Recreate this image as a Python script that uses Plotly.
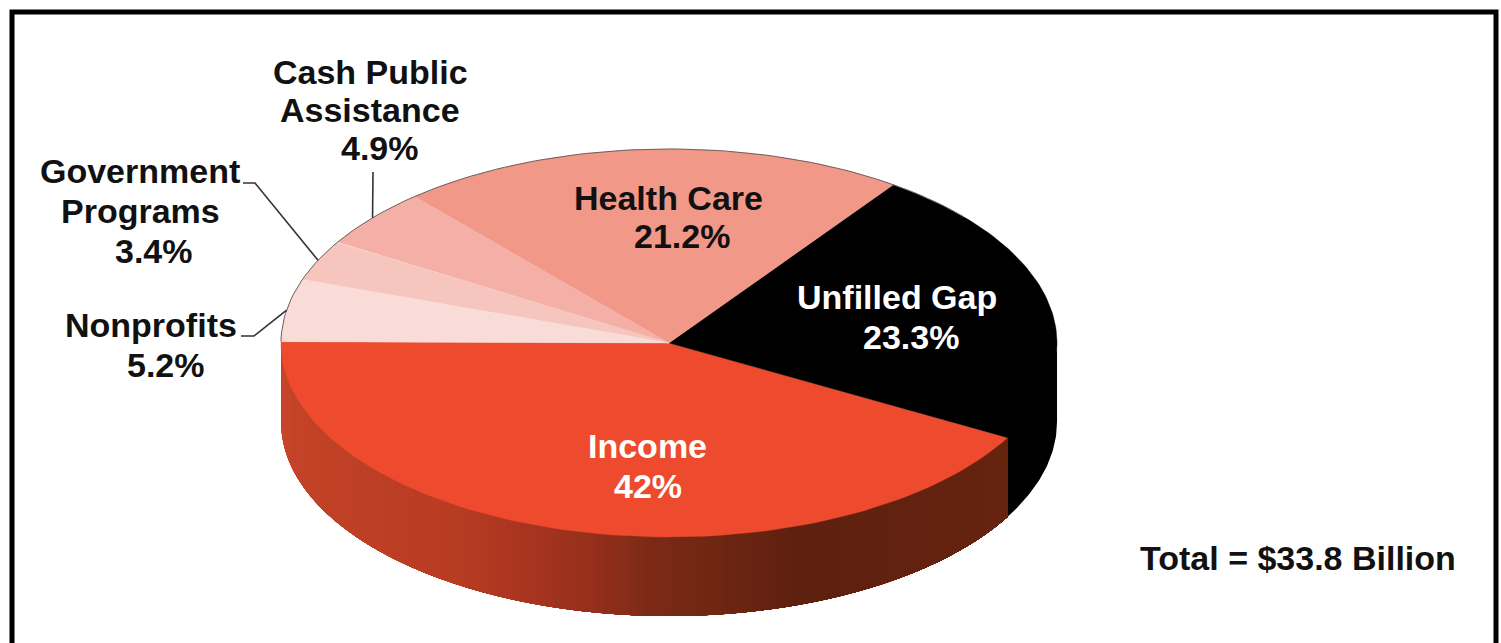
import numpy as np
import plotly.graph_objects as go

# Shares of the total, percent, running counter-clockwise from the left edge of the pie top
categories = ["Income", "Unfilled Gap", "Health Care", "Cash Public Assistance", "Government Programs", "Nonprofits"]
shares = [42.0, 23.3, 21.2, 4.9, 3.4, 5.2]
top_colors = ["#EE4B2E", "#000000", "#F29888", "#F4B0A6", "#F6C6BE", "#F9DCD8"]

total_label = "Total = $33.8 Billion"

# Pie geometry in page pixels
CX, CY = 669.0, 343.0
RX, RY = 388.0, 194.0
DEPTH = 79.0
START_DEG = 179.6

# Shading of the income rim, from its left end to its right end
rim_stops = [
    (0.00, "#9C3020"), (0.02, "#C8452A"), (0.38, "#B83C22"), (0.455, "#A83420"),
    (0.52, "#96301C"), (0.58, "#7C2A16"), (0.73, "#5E200F"), (1.00, "#66240F"),
]


def ellipse_point(deg):
    a = np.radians(deg)
    return CX + RX * np.cos(a), CY - RY * np.sin(a)


def shade(t, stops):
    ts = [s[0] for s in stops]
    rgb = np.array([[int(s[1][i:i + 2], 16) for i in (1, 3, 5)] for s in stops])
    vals = [int(round(np.interp(t, ts, rgb[:, k]))) for k in range(3)]
    return f"rgb({vals[0]},{vals[1]},{vals[2]})"


def polygon(fig, xs, ys, color, line_width=0.0):
    fig.add_trace(go.Scatter(
        x=xs, y=ys, mode="lines", fill="toself", fillcolor=color,
        line=dict(color=color, width=line_width), hoverinfo="skip", showlegend=False,
    ))


def rim(fig, a0, a1, color):
    # The upper edge is lifted a little so the top face laps over it without a seam
    a = np.linspace(a0, a1, 40)
    x, y = ellipse_point(a)
    polygon(fig, np.r_[x, x[::-1]], np.r_[y - 3, y[::-1] + DEPTH], color)


fig = go.Figure()

# Slice limits in degrees, derived from the shares
edges = START_DEG + np.cumsum([0.0] + [s * 3.6 for s in shares])

# Rim of the black slice, the part that faces the viewer
rim(fig, edges[1], 360.0, "#000000")

# Rim of the income slice: each strip runs to the far end and the next one paints over it
steps = np.linspace(edges[1], edges[0], 121)[::-1]
for i in range(len(steps) - 1):
    rim(fig, steps[i], edges[1], shade(i / (len(steps) - 2), rim_stops))

# Top faces
for i, color in enumerate(top_colors):
    a = np.linspace(edges[i], edges[i + 1], 80)
    x, y = ellipse_point(a)
    polygon(fig, np.r_[CX, x, CX], np.r_[CY, y, CY], color, 0.4)

# Thin outline along the far edge, over the health care and pale slices
a = np.linspace(edges[1] + 70, edges[-1], 100)
x, y = ellipse_point(a)
fig.add_trace(go.Scatter(x=x, y=y, mode="lines", line=dict(color="#6E5F5C", width=1),
                         hoverinfo="skip", showlegend=False))

# Leader lines run from each label to the middle of its slice
leaders = {
    3: [(373, 172)],
    4: [(243, 183), (255, 183)],
    5: [(241, 336), (254, 336)],
}
for idx, pts in leaders.items():
    ex, ey = ellipse_point((edges[idx] + edges[idx + 1]) / 2)
    fig.add_trace(go.Scatter(
        x=[p[0] for p in pts] + [ex], y=[p[1] for p in pts] + [ey], mode="lines",
        line=dict(color="#333333", width=1.6), hoverinfo="skip", showlegend=False,
    ))

# Text, one annotation per line for tight leading
lines = [
    ("Cash Public", 370, 72, "#111111"), ("Assistance", 370, 110, "#111111"), ("4.9%", 380, 148, "#111111"),
    ("Government", 140, 171, "#111111"), ("Programs", 140, 211, "#111111"), ("3.4%", 154, 251, "#111111"),
    ("Nonprofits", 151, 325, "#111111"), ("5.2%", 166, 365, "#111111"),
    ("Health Care", 668, 198, "#111111"), ("21.2%", 682, 236, "#111111"),
    ("Unfilled Gap", 897, 297, "#FFFFFF"), ("23.3%", 911, 337, "#FFFFFF"),
    ("Income", 647, 446, "#FFFFFF"), ("42%", 648, 486, "#FFFFFF"),
    (total_label, 1298, 558, "#111111"),
]
annotations = [
    dict(text=t, x=px, y=py, xref="x", yref="y", showarrow=False, xanchor="center", yanchor="middle",
         font=dict(family="Liberation Sans", size=34, color=c, weight="bold"))
    for t, px, py, c in lines
]

# Frame, open along the bottom
frame = dict(type="path", path="M 12 643 L 12 12 L 1496 12 L 1496 643",
             line=dict(color="#000000", width=5), xref="x", yref="y")

fig.update_layout(
    width=1501, height=643, autosize=False,
    margin=dict(l=0, r=0, t=0, b=0),
    paper_bgcolor="#FFFFFF", plot_bgcolor="#FFFFFF",
    xaxis=dict(range=[0, 1501], visible=False, fixedrange=True),
    yaxis=dict(range=[643, 0], visible=False, fixedrange=True),
    shapes=[frame], annotations=annotations, showlegend=False,
)

fig.write_html("out.html", config=dict(displayModeBar=False))
